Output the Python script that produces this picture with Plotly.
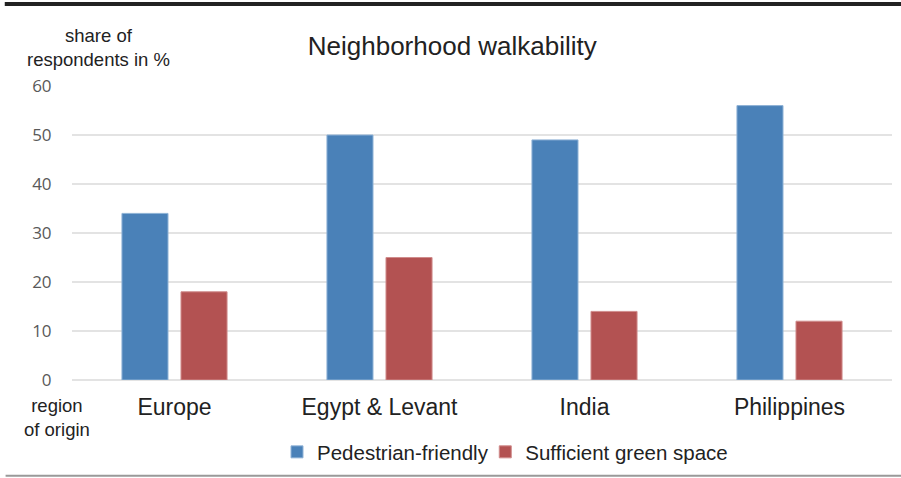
import plotly.graph_objects as go

regions = ["Europe", "Egypt & Levant", "India", "Philippines"]
pedestrian_friendly = [34, 50, 49, 56]
green_space = [18, 25, 14, 12]
y_ticks = [0, 10, 20, 30, 40, 50, 60]

BLUE = "#4A81B8"
RED = "#B35252"
FONT = "Liberation Sans, Arial"

fig = go.Figure()
fig.add_trace(go.Bar(x=regions, y=pedestrian_friendly, name="Pedestrian-friendly",
                     marker=dict(color=BLUE, line=dict(color="#8FB2D6", width=1)),
                     legend="legend"))
fig.add_trace(go.Bar(x=regions, y=green_space, name="Sufficient green space",
                     marker=dict(color=RED, line=dict(color="#D08C8C", width=1)),
                     legend="legend2"))

legend_style = dict(orientation="h", xanchor="left", y=-0.245, yanchor="middle",
                    bgcolor="rgba(0,0,0,0)",
                    font=dict(family=FONT, size=20.5, color="#222222"), itemwidth=30)

fig.update_layout(
    width=901, height=478,
    margin=dict(l=72, r=9, t=86, b=98, autoexpand=False),
    paper_bgcolor="white", plot_bgcolor="white",
    barmode="group", bargap=0.424, bargroupgap=0.22,
    showlegend=True,
    legend=dict(x=0.25, **legend_style),
    legend2=dict(x=0.504, **legend_style),
    title=dict(text="Neighborhood walkability", x=0.502, xanchor="center", y=0.905, yanchor="middle",
               font=dict(family=FONT, size=26, color="#222222")),
    xaxis=dict(tickfont=dict(family=FONT, size=23, color="#222222"),
               ticks="outside", ticklen=6, tickcolor="rgba(0,0,0,0)",
               showline=False, showgrid=False),
    yaxis=dict(range=[0, 60], tickvals=y_ticks, showgrid=True, gridcolor="#E3E3E3", gridwidth=2,
               zeroline=True, zerolinecolor="#E3E3E3", zerolinewidth=2,
               tickfont=dict(family="Open Sans, DejaVu Sans", size=17, color="#595959"),
               ticks="outside", ticklen=16, tickcolor="rgba(0,0,0,0)"),
    shapes=[
        dict(type="line", xref="paper", yref="paper", x0=-0.082, x1=1.011, y0=1.279, y1=1.279,
             line=dict(color="#222222", width=4)),
        dict(type="line", xref="paper", yref="paper", x0=-0.081, x1=1.011, y0=-0.326, y1=-0.326,
             line=dict(color="#999999", width=2)),
    ],
    annotations=[
        dict(text="share of<br>respondents in %", xref="paper", yref="paper", x=0.032, y=1.132,
             xanchor="center", yanchor="middle", showarrow=False, align="center",
             font=dict(family=FONT, size=18.5, color="#222222")),
        dict(text="region<br>of origin", xref="paper", yref="paper", x=-0.018, y=-0.128,
             xanchor="center", yanchor="middle", showarrow=False, align="center",
             font=dict(family=FONT, size=18.5, color="#222222")),
    ],
)

fig.write_html("out.html", post_script="document.body.style.margin='0';",
               config={"displayModeBar": False})
